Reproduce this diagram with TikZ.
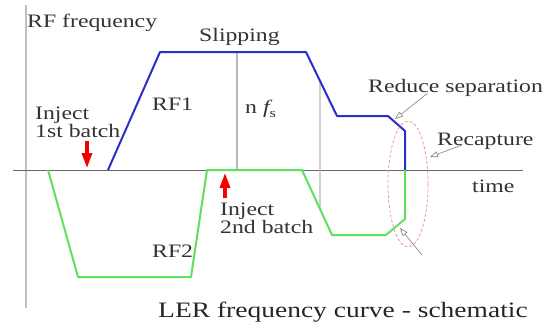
\documentclass[tikz,border=0pt]{standalone}
\usepackage{fontspec}
\setmainfont{Liberation Serif}
\newfontfamily\lerfont[FakeStretch=1.25]{Liberation Serif}
\usepackage{xcolor}
\usetikzlibrary{arrows.meta,calc}
\definecolor{rfblue}{RGB}{45,45,205}
\definecolor{rfgreen}{RGB}{95,225,95}
\definecolor{ringpink}{RGB}{230,140,150}
\tikzset{
  fx/.style={x=1pt, y=-1pt},
  l lbl/.style={inner sep=0pt, font=\lerfont\fontsize{19}{18}\selectfont, text=black!80, align=left},
  l cap/.style={inner sep=0pt, font=\lerfont\fontsize{22}{24}\selectfont, text=black!85},
  l rf1/.style={draw=rfblue, line width=2pt, line join=round},
  l rf2/.style={draw=rfgreen, line width=2pt, line join=round},
  l grid/.style={draw=black!28, line width=1.1pt},
  l axis/.style={draw=black!60, line width=0.8pt},
  l yaxis/.style={draw=black!25, line width=1.5pt},
  l inj/.style={draw=red!95!black, line width=3.2pt, -{Triangle[length=15pt, width=10pt]}},
  l call/.style={draw=black!50, line width=0.6pt, -{Triangle[open, length=8pt, width=6pt]}},
  l ring/.style={draw=ringpink, densely dashed, line width=0.7pt},
}

\begin{document}
\begin{tikzpicture}[fx]
\useasboundingbox[fill=white] (0,0) rectangle (550,322);
% axes
\coordinate (o1) at (26,5); \coordinate (o2) at (26,308);
\coordinate (t1) at (13,170); \coordinate (t2) at (523,170);
\draw[l yaxis] (o1) -- (o2);
\draw[l axis] (t1) -- (t2);
% RF1 and RF2 corners
\coordinate (b1) at (108,170); \coordinate (b2) at (160,52); \coordinate (b3) at (306,52);
\coordinate (b4) at (337,116); \coordinate (b5) at (388,116); \coordinate (b6) at (405,131);
\coordinate (b7) at (405,170);
\coordinate (g1) at (48,170); \coordinate (g2) at (78,277); \coordinate (g3) at (191,277);
\coordinate (g4) at (207,170); \coordinate (g5) at (302,170); \coordinate (g6) at (332,235);
\coordinate (g7) at (386,235); \coordinate (g8) at (405,219);
% guide lines
\draw[l grid] (237,52) -- (237,170);
\draw[l grid] ($(b3)!0.45!(b4)$) -- ($(g5)!0.6!(g6)$);
\draw[l rf2] (g1) -- (g2) -- (g3) -- (g4) -- (g5) -- (g6) -- (g7) -- (g8) -- (b7);
\draw[l rf1] (b1) -- (b2) -- (b3) -- (b4) -- (b5) -- (b6) -- (b7);
\draw[l ring] (408,184) ellipse [x radius=20pt, y radius=63pt];
% labels
\node[l lbl, anchor=base west] (yl) at (27,27) {RF frequency};
\node[l lbl, anchor=base west] (slip) at (199,41) {Slipping};
\node[l lbl, anchor=base west] (rf1) at (152,110) {RF1};
\node[l lbl, anchor=base west] (nfs) at (245,113) {n {\itshape f}\raisebox{-.5ex}{\fontsize{13}{13}\selectfont s}};
\node[l lbl, anchor=north west] (inj1) at (35,107) {Inject\\1st batch};
\node[l lbl, anchor=north west] (inj2) at (220,203) {Inject\\2nd batch};
\node[l lbl, anchor=base west] (rf2) at (152,257) {RF2};
\node[l lbl, anchor=base west] (tl) at (472,192) {time};
\node[l lbl, anchor=base west] (sep) at (368,92) {Reduce separation};
\node[l lbl, anchor=base west] (rec) at (437,145) {Recapture};
\node[l cap, anchor=base west] (cap) at (158,317) {LER frequency curve - schematic};
% injection marks
\coordinate (a1) at (87,168); \coordinate (a2) at (225,173);
\draw[l inj] ([yshift=-3pt]inj1.south -| a1) -- (a1);
\draw[l inj] ([yshift=5pt]inj2.north -| a2) -- (a2);
% callouts
\coordinate (rs) at (395,119); \coordinate (rc) at (430,157);
\coordinate (rt) at (422,255); \coordinate (rg) at (400,228);
\draw[l call] ([xshift=-28pt,yshift=3pt]sep.south) -- (rs);
\draw[l call] ([xshift=25pt]rec.base west) -- (rc);
\draw[l call] (rt) -- (rg);
\end{tikzpicture}
\end{document}
